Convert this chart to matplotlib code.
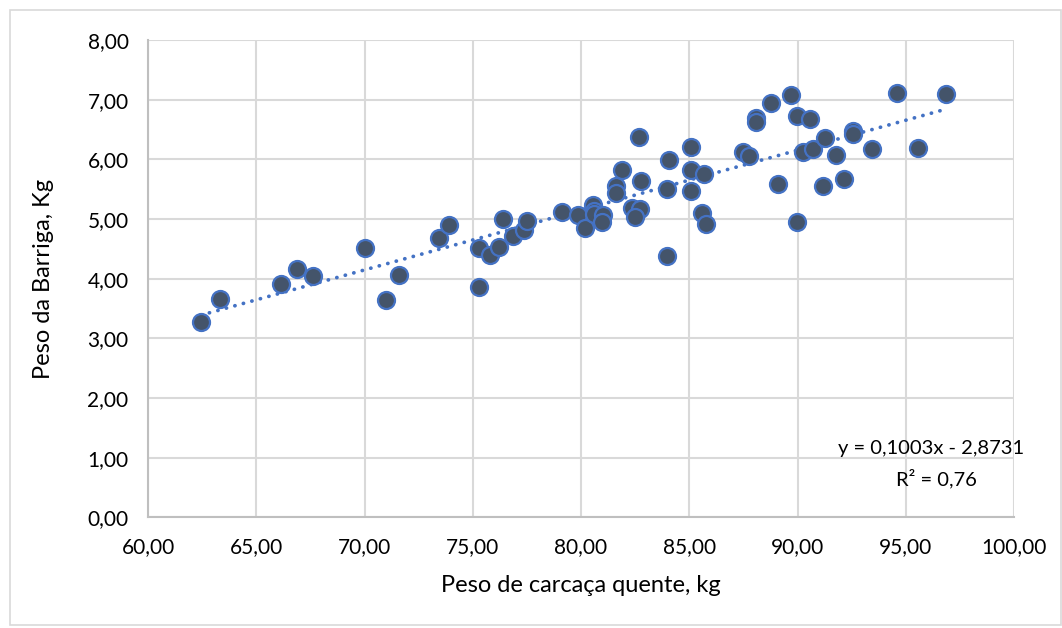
import matplotlib.pyplot as plt
import numpy as np
from matplotlib.ticker import FuncFormatter, MultipleLocator
from matplotlib.patches import Rectangle

# peso de carcaça quente (kg) e peso da barriga (kg)
carcaca = [62.44, 63.32, 66.12, 66.89, 67.61, 70.01, 71.01, 71.60, 73.42, 73.90,
           75.28, 75.28, 75.81, 76.22, 76.39, 76.88, 77.38, 77.50, 79.10, 79.88,
           80.19, 80.57, 80.60, 80.60, 81.00, 80.99, 81.60, 81.60, 81.88, 82.37,
           82.73, 82.50, 82.77, 82.69, 83.99, 83.99, 84.07, 85.08, 85.08, 85.08,
           85.60, 85.77, 85.70, 87.46, 87.75, 88.08, 88.08, 88.77, 89.68, 89.98,
           90.57, 89.08, 89.98, 90.26, 90.72, 91.26, 91.18, 91.77, 92.15, 92.56,
           92.56, 93.46, 94.60, 95.56, 96.87]
barriga = [3.27, 3.66, 3.91, 4.16, 4.04, 4.52, 3.65, 4.06, 4.68, 4.90,
           4.52, 3.86, 4.39, 4.54, 5.00, 4.71, 4.81, 4.96, 5.12, 5.06,
           4.85, 5.23, 5.13, 5.09, 5.06, 4.95, 5.56, 5.44, 5.83, 5.19,
           5.17, 5.03, 5.64, 6.38, 4.38, 5.51, 5.99, 6.20, 5.82, 5.47,
           5.10, 4.91, 5.76, 6.12, 6.05, 6.69, 6.62, 6.94, 7.08, 6.72,
           6.67, 5.59, 4.95, 6.13, 6.18, 6.36, 5.55, 6.07, 5.67, 6.47,
           6.43, 6.17, 7.11, 6.19, 7.09]

# linha de tendencia linear (como no Excel)
coef_a = 0.1003
coef_b = -2.8731

azul = '#4472C4'
cinza_escuro = '#44546A'

fig = plt.figure(figsize=(10.62, 6.28), dpi=100)
ax = fig.add_axes([0.1394, 0.176, 0.8154, 0.7603])

# borda externa do grafico
fig.patches.append(Rectangle((0.009, 0.005), 0.99, 0.979, transform=fig.transFigure,
                             fill=False, edgecolor='#D9D9D9', linewidth=1.2))

xs = np.array([min(carcaca), max(carcaca)])
ax.plot(xs, coef_a * xs + coef_b, linestyle=(0, (0.05, 2.3)), color=azul,
        linewidth=2.7, dash_capstyle='round', zorder=2)

ax.scatter(carcaca, barriga, s=150, facecolor=cinza_escuro, edgecolor=azul,
           linewidth=1.6, zorder=3)

ax.set_xlim(60, 100)
ax.set_ylim(0, 8)
ax.xaxis.set_major_locator(MultipleLocator(5))
ax.yaxis.set_major_locator(MultipleLocator(1))
virgula = FuncFormatter(lambda v, p: f'{v:.2f}'.replace('.', ','))
ax.xaxis.set_major_formatter(virgula)
ax.yaxis.set_major_formatter(virgula)

ax.grid(True, color='#D9D9D9', linewidth=1.5, zorder=0)
ax.set_axisbelow(True)
for lado in ['top', 'right']:
    ax.spines[lado].set_visible(False)
for lado in ['left', 'bottom']:
    ax.spines[lado].set_color('#BFBFBF')
    ax.spines[lado].set_linewidth(1.5)

ax.tick_params(length=0, labelsize=15, labelcolor='#000000', pad=14)
for lbl in ax.get_xticklabels() + ax.get_yticklabels():
    lbl.set_family('Lato')
ax.tick_params(axis='x', pad=14)

fonte = {'family': 'Lato', 'size': 17, 'color': '#000000'}
ax.set_xlabel('Peso de carcaça quente, kg', fontdict=fonte, labelpad=13)
ax.set_ylabel('Peso da Barriga, Kg', fontdict=fonte, labelpad=24)

ax.text(96.15, 1.16, 'y = 0,1003x - 2,8731', ha='center', va='center',
        fontdict={'family': 'Lato', 'size': 14.5})
ax.text(96.4, 0.66, 'R² = 0,76', ha='center', va='center',
        fontdict={'family': 'Lato', 'size': 14.5})

fig.savefig('out.png', dpi=100)
